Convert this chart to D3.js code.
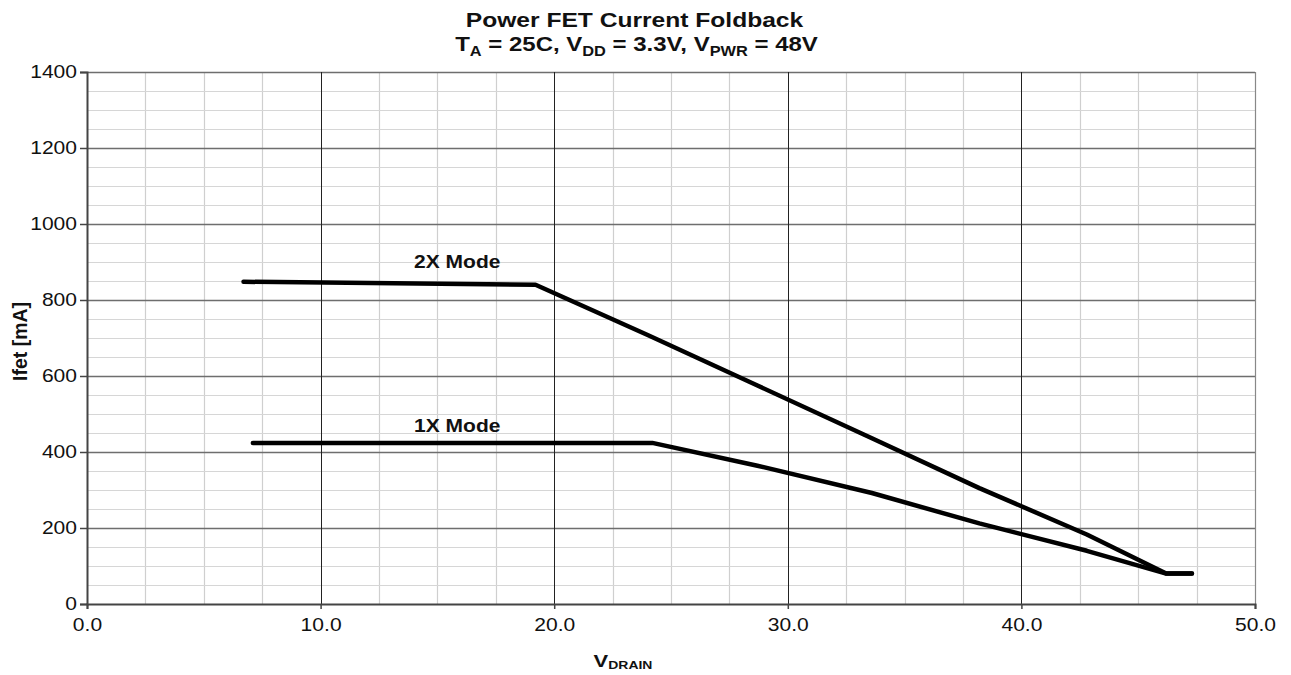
<!DOCTYPE html>
<html>
<head>
<meta charset="utf-8">
<script src="https://cdn.jsdelivr.net/npm/d3@7"></script>
<style>
  body { margin: 0; background: #fff; }
  text { font-family: "Liberation Sans", Arial, sans-serif; fill: #111; }
</style>
</head>
<body>
<div id="chart"></div>
<script>
// values
var mode2x = [[6.7, 848], [19.2, 840], [24.0, 708], [28.7, 575], [33.6, 436], [38.2, 305], [42.8, 183], [46.2, 80], [47.3, 80]];
var mode1x = [[7.1, 424], [24.2, 424], [28.7, 364], [33.6, 292], [38.2, 212], [42.8, 140], [46.2, 80], [47.3, 80]];
var seriesNames = ["2X Mode", "1X Mode"];
var labelPos = [[15.85, 884], [15.85, 452]];
var xTicks = [0, 10, 20, 30, 40, 50];
var yTicks = [0, 200, 400, 600, 800, 1000, 1200, 1400];

var width = 1291, height = 675;
var margin = {top: 72, right: 36, bottom: 71, left: 87};
var sx = 1.17; // text in the reference is a little wide

var svg = d3.select("#chart").append("svg")
    .attr("width", width)
    .attr("height", height);

var x = d3.scaleLinear().domain([0, 50]).range([margin.left, width - margin.right]);
var y = d3.scaleLinear().domain([0, 1400]).range([height - margin.bottom, margin.top]);

// text placed in a group that is stretched horizontally
function wideText(cx, cy, k) {
  return svg.append("g")
    .attr("transform", "translate(" + cx + "," + cy + ") scale(" + k + ",1)")
    .append("text");
}

var grid = svg.append("g");

// minor grid first
grid.selectAll(".vminor")
    .data(d3.range(2.5, 50, 2.5).filter(function(d) { return d % 10 != 0; }))
    .enter().append("line")
    .attr("x1", function(d) { return Math.round(x(d)) + 0.5; })
    .attr("x2", function(d) { return Math.round(x(d)) + 0.5; })
    .attr("y1", y(0)).attr("y2", y(1400))
    .attr("stroke", "#cfcfcf").attr("stroke-width", 1.2);

grid.selectAll(".hminor")
    .data(d3.range(50, 1400, 50).filter(function(d) { return d % 200 != 0; }))
    .enter().append("line")
    .attr("y1", function(d) { return Math.round(y(d)) + 0.5; })
    .attr("y2", function(d) { return Math.round(y(d)) + 0.5; })
    .attr("x1", x(0)).attr("x2", x(50))
    .attr("stroke", "#d6d6d6").attr("stroke-width", 1.2);

grid.selectAll(".hmajor")
    .data(yTicks.slice(1))
    .enter().append("line")
    .attr("y1", function(d) { return Math.round(y(d)) + 0.5; })
    .attr("y2", function(d) { return Math.round(y(d)) + 0.5; })
    .attr("x1", x(0)).attr("x2", x(50))
    .attr("stroke", "#6e6e6e").attr("stroke-width", 1.3);

grid.selectAll(".vmajor")
    .data(xTicks.slice(1, 5))
    .enter().append("line")
    .attr("x1", function(d) { return Math.round(x(d)) + 0.5; })
    .attr("x2", function(d) { return Math.round(x(d)) + 0.5; })
    .attr("y1", y(0)).attr("y2", y(1400))
    .attr("stroke", "#222").attr("stroke-width", 1);

// right edge of plot
grid.append("line")
    .attr("x1", x(50) + 0.5).attr("x2", x(50) + 0.5)
    .attr("y1", y(0)).attr("y2", y(1400))
    .attr("stroke", "#888").attr("stroke-width", 1.2);

// axes
var yAxis = svg.append("g")
    .attr("transform", "translate(" + x(0) + ",0)")
    .call(d3.axisLeft(y).tickValues(yTicks).tickSize(7).tickPadding(3).tickFormat(d3.format("d")));
var xAxis = svg.append("g")
    .attr("transform", "translate(0," + y(0) + ")")
    .call(d3.axisBottom(x).tickValues(xTicks).tickSize(5).tickPadding(9).tickFormat(d3.format(".1f")));

[xAxis, yAxis].forEach(function(a) {
  a.select(".domain").attr("stroke", "#444").attr("stroke-width", 2);
  a.selectAll(".tick line").attr("stroke", "#444").attr("stroke-width", 1.5);
  a.selectAll(".tick text")
    .style("font-family", "'Liberation Sans', Arial, sans-serif")
    .style("font-size", "18px").attr("fill", "#111")
    .attr("transform", "scale(" + sx + ",1)");
});
yAxis.selectAll(".tick text").attr("x", -10 / sx);

// lines
var line = d3.line()
    .x(function(d) { return x(d[0]); })
    .y(function(d) { return y(d[1]); });

svg.selectAll(".series")
    .data([mode2x, mode1x])
    .enter().append("path")
    .attr("d", line)
    .attr("fill", "none")
    .attr("stroke", "#000")
    .attr("stroke-width", 4.5)
    .attr("stroke-linejoin", "round")
    .attr("stroke-linecap", "round");

seriesNames.forEach(function(name, i) {
  wideText(x(labelPos[i][0]), y(labelPos[i][1]), 1.2)
    .attr("text-anchor", "middle")
    .style("font-size", "17.5px").style("font-weight", "bold")
    .text(name);
});

// title
wideText(634.5, 27, 1.2)
    .attr("text-anchor", "middle")
    .style("font-size", "20.5px").style("font-weight", "bold")
    .text("Power FET Current Foldback");

var t2 = wideText(636.5, 51, 1.17)
    .attr("text-anchor", "middle")
    .style("font-size", "20.5px").style("font-weight", "bold");
t2.append("tspan").text("T");
t2.append("tspan").attr("dy", 5).style("font-size", "14px").text("A");
t2.append("tspan").attr("dy", -5).text(" = 25C, V");
t2.append("tspan").attr("dy", 5).style("font-size", "14px").text("DD");
t2.append("tspan").attr("dy", -5).text(" = 3.3V, V");
t2.append("tspan").attr("dy", 5).style("font-size", "14px").text("PWR");
t2.append("tspan").attr("dy", -5).text(" = 48V");

// axis titles
var xt = wideText(623, 667, 1.33)
    .attr("text-anchor", "middle")
    .style("font-size", "16.5px").style("font-weight", "bold");
xt.append("tspan").text("V");
xt.append("tspan").attr("dy", 2).style("font-size", "10.5px").text("DRAIN");

svg.append("text")
    .attr("transform", "translate(27,341.5) rotate(-90)")
    .attr("text-anchor", "middle")
    .style("font-size", "19.5px").style("font-weight", "bold")
    .text("Ifet [mA]");
</script>
</body>
</html>
